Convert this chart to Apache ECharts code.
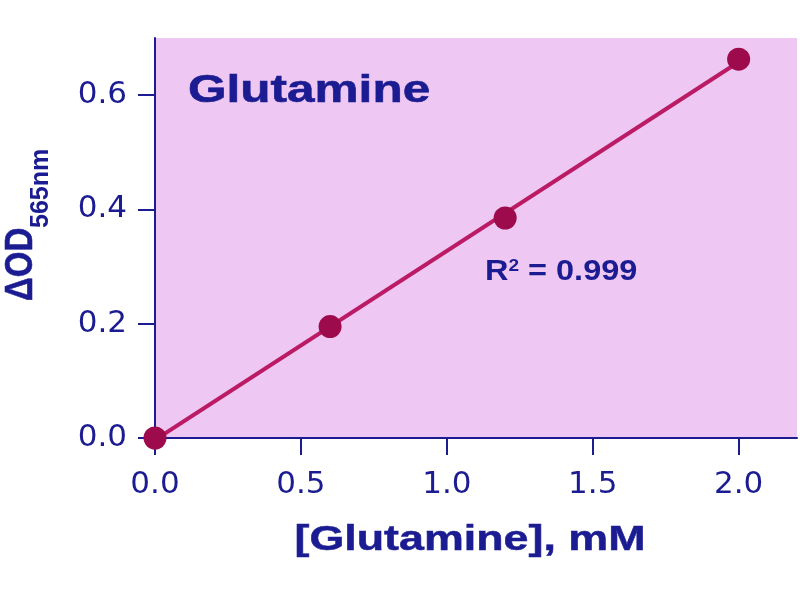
<!DOCTYPE html>
<html><head><meta charset="utf-8">
<script src="https://cdn.jsdelivr.net/npm/echarts@6/dist/echarts.min.js"></script>
<style>html,body{margin:0;padding:0;background:#fff}#c{width:800px;height:600px}</style>
</head><body><div id="c"></div>
<script>
const concentrations = [0, 0.6, 1.2, 2.0];
const odValues = [0.0, 0.195, 0.385, 0.663];
const xTicks = [0.0, 0.5, 1.0, 1.5, 2.0];
const yTicks = [0.0, 0.2, 0.4, 0.6];
const titleText = 'Glutamine';
const xTitle = '[Glutamine], mM';
const r2Text = '0.999';

// least squares fit through the read points
const n = concentrations.length;
const mx = concentrations.reduce((a,b)=>a+b,0)/n;
const my = odValues.reduce((a,b)=>a+b,0)/n;
let sxy=0,sxx=0;
for(let i=0;i<n;i++){sxy+=(concentrations[i]-mx)*(odValues[i]-my);sxx+=(concentrations[i]-mx)**2;}
const slope=sxy/sxx, icpt=my-slope*mx;
const xs=[concentrations[0], concentrations[n-1]];
const fitLine = xs.map(x=>[x, icpt+slope*x]);

const navy='#1c1c92';
const boldFont = s => 'bold '+s+'px "Liberation Sans", Arial, sans-serif';
const chart = echarts.init(document.getElementById('c'));
chart.setOption({
  animation:false,
  backgroundColor:'#ffffff',
  grid:{left:155,top:38,width:642,height:400,show:true,backgroundColor:'#eec8f2',borderWidth:0},
  xAxis:{type:'value',min:0,max:2.2,interval:0.5,
    axisLine:{show:true,lineStyle:{color:navy,width:2}},
    axisTick:{show:true,length:17,customValues:xTicks,lineStyle:{color:navy,width:2}},
    splitLine:{show:false},
    axisLabel:{color:navy,fontSize:31,fontFamily:'DejaVu Sans',margin:31,customValues:xTicks,
      formatter:v=>v.toFixed(1)}
  },
  yAxis:{type:'value',min:0,max:0.7,interval:0.2,
    axisLine:{show:true,lineStyle:{color:navy,width:2}},
    axisTick:{show:true,length:17,customValues:yTicks,lineStyle:{color:navy,width:2}},
    splitLine:{show:false},
    axisLabel:{color:navy,fontSize:31,fontFamily:'DejaVu Sans',margin:28,customValues:yTicks,
      formatter:v=>v.toFixed(1)}
  },
  graphic:[
    {type:'text',x:188,y:91,scaleX:1.27,style:{text:titleText,fill:navy,stroke:navy,lineWidth:0.6,font:boldFont(39),align:'left',verticalAlign:'middle'}},
    {type:'text',x:470,y:540,scaleX:1.28,style:{text:xTitle,fill:navy,stroke:navy,lineWidth:0.5,font:boldFont(35),align:'center',verticalAlign:'middle'}},
    {type:'text',x:485,y:272,scaleX:1.12,style:{
      text:'{a|R}{s|2}{a| = '+r2Text+'}',verticalAlign:'middle',align:'left',
      rich:{a:{fill:navy,font:boldFont(29)},
            s:{fill:navy,font:boldFont(17),padding:[0,0,12,0]}}}},
    {type:'text',x:22,y:301,rotation:Math.PI/2,scaleY:1.15,style:{text:'ΔOD',fill:navy,stroke:navy,lineWidth:0.5,font:boldFont(33),align:'left',verticalAlign:'middle'}},
    {type:'text',x:41,y:228,rotation:Math.PI/2,style:{text:'565nm',fill:navy,font:boldFont(25),align:'left',verticalAlign:'middle'}}
  ],
  series:[
    {type:'line',data:fitLine,symbol:'none',lineStyle:{color:'#bb1a64',width:4},z:2},
    {type:'scatter',data:concentrations.map((x,i)=>[x,odValues[i]]),symbolSize:23,
      itemStyle:{color:'#9e0b4c',opacity:1},z:3}
  ]
});
</script></body></html>
